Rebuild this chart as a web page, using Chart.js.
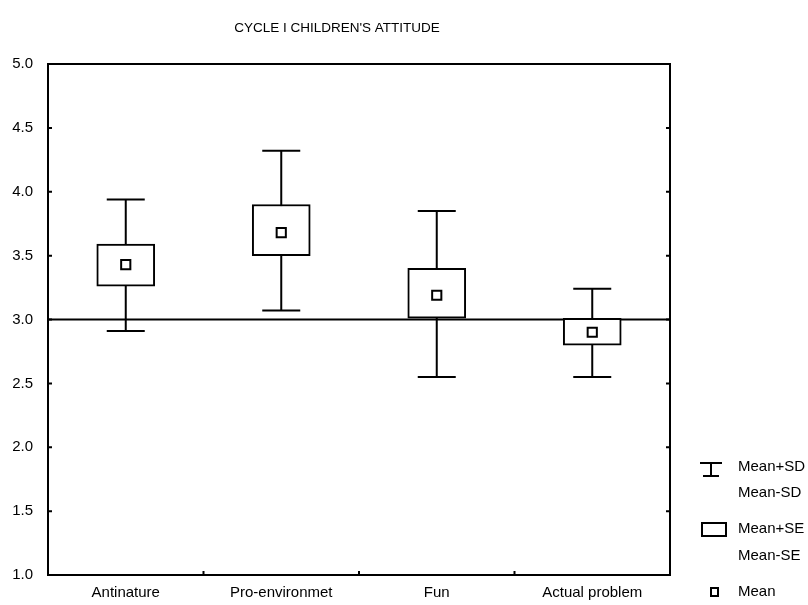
<!DOCTYPE html>
<html>
<head>
<meta charset="utf-8">
<script src="https://cdn.jsdelivr.net/npm/chart.js@4.4.0/dist/chart.umd.min.js"></script>
<style>
  html, body { margin: 0; padding: 0; background: #fff; }
  #wrap { width: 808px; height: 605px; }
</style>
</head>
<body>
<div id="wrap"><canvas id="chart" width="808" height="605"></canvas></div>
<script>
const categories = ['Antinature', 'Pro-environmet', 'Fun', 'Actual problem'];
const means = [3.43, 3.68, 3.19, 2.90];
const seLow = [3.26, 3.50, 3.01, 2.80];
const seHigh = [3.59, 3.90, 3.40, 3.01];
const sdLow = [2.91, 3.07, 2.55, 2.55];
const sdHigh = [3.94, 4.32, 3.85, 3.24];
const yTicks = [1.0, 1.5, 2.0, 2.5, 3.0, 3.5, 4.0, 4.5, 5.0];
const refLine = 3.0;

const FONT = '"Liberation Sans", Arial, sans-serif';
Chart.defaults.font.family = FONT;
Chart.defaults.color = '#000';

// whiskers, reference line, frame, inward ticks
const extras = {
  id: 'extras',
  beforeDatasetsDraw(chart) {
    const { ctx, chartArea: a, scales: { x, y } } = chart;
    ctx.save();
    ctx.strokeStyle = '#000';
    ctx.lineWidth = 2;
    // line at 3.0
    const yr = y.getPixelForValue(refLine);
    ctx.beginPath();
    ctx.moveTo(a.left, yr);
    ctx.lineTo(a.right, yr);
    ctx.stroke();
    // SD whiskers
    const cap = 19;
    categories.forEach((c, i) => {
      const cx = x.getPixelForValue(i);
      const yt = y.getPixelForValue(sdHigh[i]);
      const yb = y.getPixelForValue(sdLow[i]);
      ctx.beginPath();
      ctx.moveTo(cx, yt); ctx.lineTo(cx, yb);
      ctx.moveTo(cx - cap, yt); ctx.lineTo(cx + cap, yt);
      ctx.moveTo(cx - cap, yb); ctx.lineTo(cx + cap, yb);
      ctx.stroke();
    });
    ctx.restore();
  },
  afterDraw(chart) {
    const { ctx, chartArea: a, scales: { x, y } } = chart;
    ctx.save();
    ctx.strokeStyle = '#000';
    ctx.lineWidth = 2;
    ctx.strokeRect(a.left, a.top, a.right - a.left, a.bottom - a.top);
    ctx.beginPath();
    yTicks.forEach(v => {
      const py = y.getPixelForValue(v);
      ctx.moveTo(a.left, py); ctx.lineTo(a.left + 4, py);
      ctx.moveTo(a.right, py); ctx.lineTo(a.right - 4, py);
    });
    for (let i = 0; i < categories.length - 1; i++) {
      const px = (x.getPixelForValue(i) + x.getPixelForValue(i + 1)) / 2;
      ctx.moveTo(px, a.bottom); ctx.lineTo(px, a.bottom - 4);
    }
    ctx.stroke();

    // title
    ctx.fillStyle = '#000';
    ctx.font = '13.5px ' + FONT;
    ctx.textAlign = 'center';
    ctx.textBaseline = 'middle';
    ctx.fillText("CYCLE I CHILDREN'S ATTITUDE", 337, 28);

    // legend
    ctx.font = '15px ' + FONT;
    ctx.textAlign = 'left';
    ctx.beginPath();
    ctx.moveTo(700, 463); ctx.lineTo(722, 463);
    ctx.moveTo(711, 463); ctx.lineTo(711, 476);
    ctx.moveTo(703, 476); ctx.lineTo(719, 476);
    ctx.stroke();
    ctx.fillText('Mean+SD', 738, 467);
    ctx.fillText('Mean-SD', 738, 493);
    ctx.strokeRect(702, 523, 24, 13);
    ctx.fillText('Mean+SE', 738, 529);
    ctx.fillText('Mean-SE', 738, 556);
    ctx.strokeRect(711, 588, 7, 8);
    ctx.fillText('Mean', 738, 592);
    ctx.restore();
  }
};

new Chart(document.getElementById('chart'), {
  data: {
    labels: categories,
    datasets: [
      {
        type: 'line',
        label: 'Mean',
        data: means,
        showLine: false,
        pointStyle: 'rect',
        pointRadius: 6.5,
        pointHoverRadius: 6.5,
        pointBackgroundColor: '#fff',
        pointBorderColor: '#000',
        pointBorderWidth: 2,
        order: 0
      },
      {
        type: 'bar',
        label: 'Mean+SE / Mean-SE',
        data: seLow.map((l, i) => [l, seHigh[i]]),
        backgroundColor: '#fff',
        borderColor: '#000',
        borderWidth: 2,
        borderSkipped: false,
        barThickness: 58,
        order: 1
      }
    ]
  },
  options: {
    responsive: false,
    animation: false,
    events: [],
    layout: { padding: { top: 64, right: 138, bottom: 0, left: 0 } },
    plugins: {
      legend: { display: false },
      title: { display: false },
      tooltip: { enabled: false }
    },
    scales: {
      x: {
        type: 'category',
        offset: true,
        grid: { display: false, drawTicks: false },
        border: { display: false },
        ticks: { font: { size: 15 }, padding: 9, color: '#000', maxRotation: 0 },
        afterFit(s) { s.height = 30; }
      },
      y: {
        min: 1,
        max: 5,
        grid: { display: false, drawTicks: false },
        border: { display: false },
        afterBuildTicks(s) { s.ticks = yTicks.map(v => ({ value: v })); },
        ticks: {
          font: { size: 15 },
          padding: 15,
          color: '#000',
          callback: v => v.toFixed(1)
        },
        afterFit(s) { s.width = 48; }
      }
    }
  },
  plugins: [extras]
});
</script>
</body>
</html>
